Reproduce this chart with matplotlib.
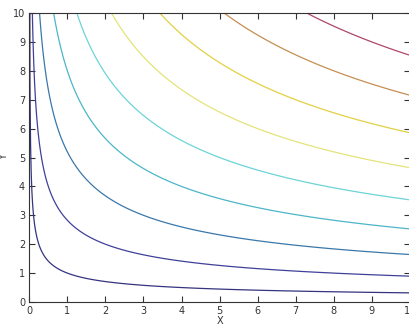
import matplotlib.pyplot as plt
import numpy as np

# utility surface U = x^a * y^b, contour levels
exp_x = 1.0 / 3.0
exp_y = 2.0 / 3.0
levels = [1, 2, 3, 4, 5, 6, 7, 8, 9, 10]
level_colors = ['#34347f', '#40409a', '#3a78aa', '#4cb6c8', '#6cd4d6',
                '#e4e47a', '#e2d044', '#c68e52', '#ae4866', '#c03434']
x_ticks = [0, 1, 2, 3, 4, 5, 6, 7, 8, 9, 10]
y_ticks = [0, 1, 2, 3, 4, 5, 6, 7, 8, 9, 10]

x = np.linspace(0, 10.2, 600)
y = np.linspace(0, 10.2, 600)
X, Y = np.meshgrid(x, y)
Z = X ** exp_x * Y ** exp_y

fig = plt.figure(figsize=(4.09, 3.25), dpi=100)
ax = fig.add_axes([29.3 / 409, 23 / 325, 380.5 / 409, 289 / 325])
ax.contour(X, Y, Z, levels=levels, colors=level_colors, linewidths=0.9)

ax.set_xlim(0, 10)
ax.set_ylim(0, 10)
ax.set_xticks(x_ticks)
ax.set_yticks(y_ticks)
ax.tick_params(direction='in', length=4, width=0.8, labelsize=7,
               colors='#333333', top=True, right=True, pad=3)
for s in ax.spines.values():
    s.set_color('#333333')
    s.set_linewidth(0.8)
ax.set_xlabel('X', fontsize=7, color='#333333', labelpad=0)
ax.set_ylabel('Y', fontsize=7, color='#333333', labelpad=3)

fig.savefig('out.png', dpi=100)
